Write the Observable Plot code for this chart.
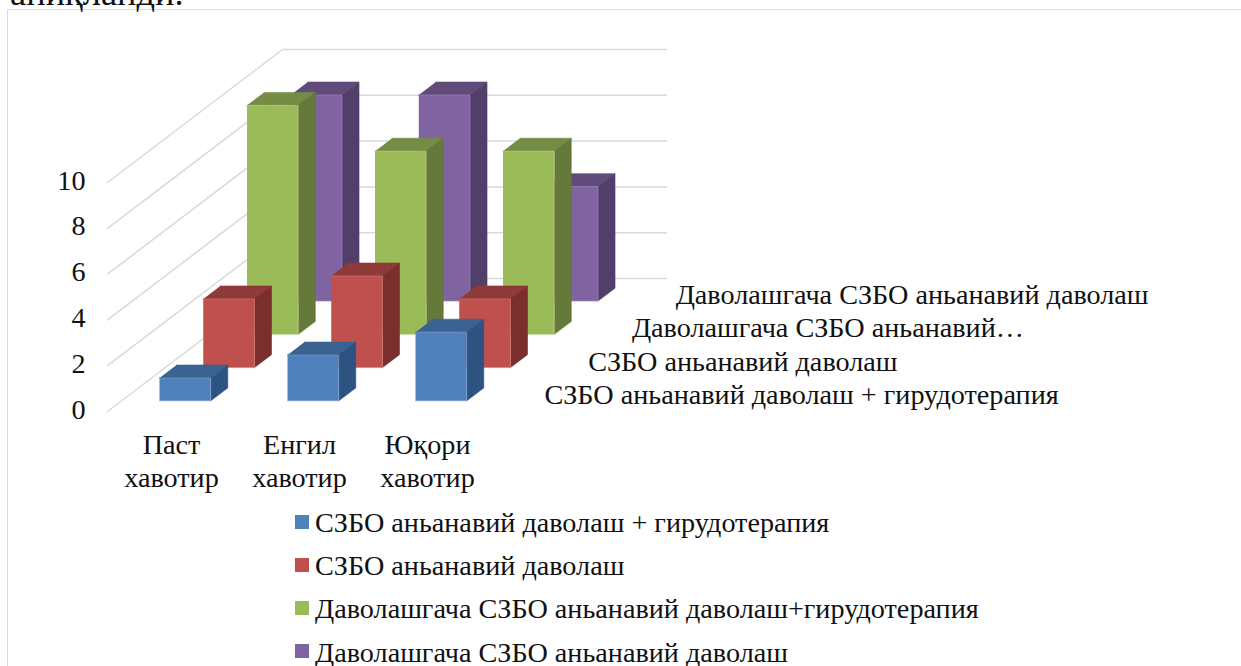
<!DOCTYPE html>
<html>
<head>
<meta charset="utf-8">
<script src="https://cdn.jsdelivr.net/npm/d3@7"></script>
<script src="https://cdn.jsdelivr.net/npm/@observablehq/plot@0.6"></script>
<style>
  html, body { margin: 0; padding: 0; background: #fff; overflow: hidden; }
  body { width: 1241px; height: 666px; position: relative; font-family: "Liberation Serif", serif; color: #111; }
  #frame { position: absolute; left: 7px; top: 9px; width: 1240px; height: 670px; border: 1.5px solid #dcdcdc; box-sizing: border-box; }
  #clip { position: absolute; left: 10px; top: -25px; font-size: 36.4px; line-height: 36px; white-space: nowrap; }
  #legend { padding-left: 295px; font-size: 28.2px; }
  #legend .row { height: 43.2px; line-height: 43.2px; display: flex; align-items: center; white-space: nowrap; }
  #legend .sw { width: 14px; height: 14px; margin-right: 6px; flex: none; position: relative; top: -1px; }
</style>
</head>
<body>
<div id="chart"></div>
<div id="legend"></div>
<div id="frame"></div>
<div id="clip">аниқланди.</div>
<script>
const categories = ["Паст\nхавотир", "Енгил\nхавотир", "Юқори\nхавотир"];
const seriesNames = [
  "СЗБО аньанавий даволаш + гирудотерапия",
  "СЗБО аньанавий даволаш",
  "Даволашгача СЗБО аньанавий даволаш+гирудотерапия",
  "Даволашгача СЗБО аньанавий даволаш"
];
const depthLabels = [
  "СЗБО аньанавий даволаш + гирудотерапия",
  "СЗБО аньанавий даволаш",
  "Даволашгача СЗБО аньанавий…",
  "Даволашгача СЗБО аньанавий даволаш"
];
const valuesBlue = [1, 2, 3];
const valuesRed = [3, 4, 3];
const valuesGreen = [10, 8, 8];
const valuesPurple = [9, 9, 5];
const seriesValues = [valuesBlue, valuesRed, valuesGreen, valuesPurple];
const frontColors = ["#4F81BD", "#C0504D", "#9BBB59", "#8064A2"];
const topColors = ["#3A6391", "#8F3A38", "#748C43", "#604B7A"];
const sideColors = ["#2F5380", "#7B2F2D", "#64793A", "#523F69"];
const valueTicks = [0, 2, 4, 6, 8, 10];

// Oblique projection of (category, value, depth) onto the plot's x / y scales.
const pxPerCategory = 128, pxPerValue = 22.9, originX = 107, originY = 411;
const depthDX = 43.75 / pxPerCategory, depthDY = 33.25 / pxPerValue;
const barStart = 0.3, barWidth = 0.4, depthStart = 0.32, depthSize = 0.39;
const px = (c, d) => c + d * depthDX;
const py = (v, d) => v + d * depthDY;

const width = 1241, height = 501;

const gridPts = valueTicks.flatMap(v => [
  {id: v, x: px(0, 0), y: py(v, 0)},
  {id: v, x: px(0, 4), y: py(v, 4)},
  {id: v, x: px(3, 4), y: py(v, 4)}
]);

const facePts = [];
function face(id, color, edge, pts) {
  pts.forEach(([x, y]) => facePts.push({id, color, edge, x, y}));
}
for (let s = seriesNames.length - 1; s >= 0; s--) {
  seriesValues[s].forEach((v, c) => {
    const c0 = c + barStart - 0.003, c1 = c0 + barWidth;
    const d0 = s + depthStart, d1 = d0 + depthSize;
    face(`top-${s}-${c}`, topColors[s], topColors[s], [
      [px(c0, d0), py(v, d0)], [px(c1, d0), py(v, d0)], [px(c1, d1), py(v, d1)], [px(c0, d1), py(v, d1)]
    ]);
    face(`side-${s}-${c}`, sideColors[s], sideColors[s], [
      [px(c1, d0), py(0, d0)], [px(c1, d1), py(0, d1)], [px(c1, d1), py(v, d1)], [px(c1, d0), py(v, d0)]
    ]);
    face(`front-${s}-${c}`, frontColors[s], d3.interpolateRgb(frontColors[s], "#fff")(0.25), [
      [px(c0, d0), py(0, d0)], [px(c1, d0), py(0, d0)], [px(c1, d0), py(v, d0)], [px(c0, d0), py(v, d0)]
    ]);
  });
}

const catRows = categories.map((label, i) => ({label, x: i + 0.5}));
const depthRows = depthLabels.map((label, i) => ({label, x: px(3, i + 0.5), y: py(0, i + 0.5)}));

const chart = Plot.plot({
  width, height,
  marginLeft: originX, marginRight: 0, marginTop: 0, marginBottom: 0,
  style: {fontFamily: "'Liberation Serif', serif", background: "transparent", color: "#111"},
  x: {domain: [0, (width - originX) / pxPerCategory], axis: null},
  y: {domain: [(originY - height) / pxPerValue, originY / pxPerValue], axis: null},
  marks: [
    Plot.line(gridPts, {x: "x", y: "y", z: "id", stroke: "#d9d9d9", strokeWidth: 1.5}),
    Plot.line(facePts, {x: "x", y: "y", z: "id", fill: "color", stroke: "edge", strokeWidth: 0.6, curve: "linear"}),
    Plot.axisY({anchor: "left", ticks: valueTicks, tickSize: 0, tickPadding: 22, label: null, fontSize: 28.2, dy: -2, tickFormat: d => String(d)}),
    Plot.text(catRows, {x: "x", y: 0, text: "label", fontSize: 28.2, lineHeight: 1.17, lineAnchor: "top", dy: 19, fill: "#111"}),
    Plot.text(depthRows, {x: "x", y: "y", text: "label", fontSize: 28.2, textAnchor: "start", dx: 31, dy: 0, fill: "#111"})
  ]
});
document.getElementById("chart").append(chart);
chart.style.display = "block";

const legend = d3.select("#legend");
seriesNames.forEach((name, i) => {
  const row = legend.append("div").attr("class", "row");
  row.append("div").attr("class", "sw").style("background", frontColors[i]);
  row.append("span").text(name);
});
</script>
</body>
</html>
